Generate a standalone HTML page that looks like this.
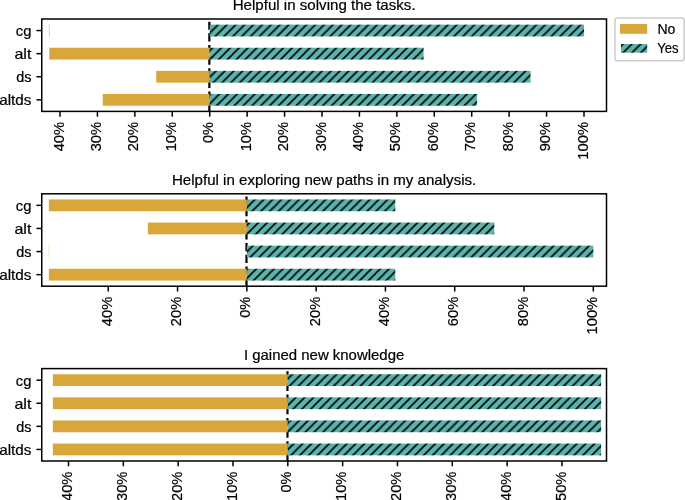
<!DOCTYPE html><html><head><meta charset="utf-8"><style>html,body{margin:0;padding:0;background:#fff;}svg{display:block;will-change:transform;}text{font-family:"Liberation Sans",sans-serif;font-size:13.9px;fill:#000;stroke:#000;stroke-width:0.2px;}</style></head><body>
<svg width="685" height="500" viewBox="0 0 685 500">
<defs>
<pattern id="h0" patternUnits="userSpaceOnUse" x="3.95" y="0" width="8.845" height="8.845">
<rect width="8.845" height="8.845" fill="#5AB4AC"/>
<path d="M0 8.845 L8.845 0 M-2 2 L2 -2 M6.845 10.845 L10.845 6.845" stroke="#000" stroke-width="1.6" fill="none"/>
</pattern>
<pattern id="h1" patternUnits="userSpaceOnUse" x="3.4" y="0" width="8.845" height="8.845">
<rect width="8.845" height="8.845" fill="#5AB4AC"/>
<path d="M0 8.845 L8.845 0 M-2 2 L2 -2 M6.845 10.845 L10.845 6.845" stroke="#000" stroke-width="1.6" fill="none"/>
</pattern>
<pattern id="h2" patternUnits="userSpaceOnUse" x="3.35" y="0" width="8.845" height="8.845">
<rect width="8.845" height="8.845" fill="#5AB4AC"/>
<path d="M0 8.845 L8.845 0 M-2 2 L2 -2 M6.845 10.845 L10.845 6.845" stroke="#000" stroke-width="1.6" fill="none"/>
</pattern>
<pattern id="hl" patternUnits="userSpaceOnUse" x="3.7" y="0" width="8.845" height="8.845">
<rect width="8.845" height="8.845" fill="#5AB4AC"/>
<path d="M0 8.845 L8.845 0 M-2 2 L2 -2 M6.845 10.845 L10.845 6.845" stroke="#000" stroke-width="1.6" fill="none"/>
</pattern>
</defs>
<rect width="685" height="500" fill="#fff"/>
<text x="324.125" y="9.9" text-anchor="middle" textLength="182.957" lengthAdjust="spacingAndGlyphs">Helpful in solving the tasks.</text>
<line x1="209.36" y1="111.4" x2="209.36" y2="19" stroke="#000" stroke-width="2.2" stroke-dasharray="8.14 3.52"/>
<rect x="48.85" y="24.35" width="1.2" height="12.4" fill="#c9b98e" opacity="0.55"/>
<rect x="209.71" y="24.65" width="374.29" height="11.8" fill="url(#h0)"/>
<rect x="49.3" y="47.75" width="160.41" height="11.8" fill="#D8A63A"/>
<rect x="209.71" y="47.75" width="213.88" height="11.8" fill="url(#h0)"/>
<rect x="156.24" y="70.85" width="53.47" height="11.8" fill="#D8A63A"/>
<rect x="209.71" y="70.85" width="320.82" height="11.8" fill="url(#h0)"/>
<rect x="102.77" y="93.95" width="106.94" height="11.8" fill="#D8A63A"/>
<rect x="209.71" y="93.95" width="267.35" height="11.8" fill="url(#h0)"/>
<rect x="41.75" y="19" width="564.75" height="92.4" fill="none" stroke="#000" stroke-width="1.5"/>
<line x1="36.45" y1="30.55" x2="41.75" y2="30.55" stroke="#000" stroke-width="1.5"/>
<text x="31.4" y="35.9" text-anchor="end" textLength="15.636" lengthAdjust="spacingAndGlyphs">cg</text>
<line x1="36.45" y1="53.65" x2="41.75" y2="53.65" stroke="#000" stroke-width="1.5"/>
<text x="31.4" y="59" text-anchor="end" textLength="16.932" lengthAdjust="spacingAndGlyphs">alt</text>
<line x1="36.45" y1="76.75" x2="41.75" y2="76.75" stroke="#000" stroke-width="1.5"/>
<text x="31.4" y="82.1" text-anchor="end" textLength="15.256" lengthAdjust="spacingAndGlyphs">ds</text>
<line x1="36.45" y1="99.85" x2="41.75" y2="99.85" stroke="#000" stroke-width="1.5"/>
<text x="31.4" y="105.2" text-anchor="end" textLength="32.188" lengthAdjust="spacingAndGlyphs">altds</text>
<line x1="59.994" y1="111.4" x2="59.994" y2="116.7" stroke="#000" stroke-width="1.5"/>
<text transform="translate(63.634 122) rotate(-90)" text-anchor="end" textLength="29.339" lengthAdjust="spacingAndGlyphs">40%</text>
<line x1="97.423" y1="111.4" x2="97.423" y2="116.7" stroke="#000" stroke-width="1.5"/>
<text transform="translate(101.063 122) rotate(-90)" text-anchor="end" textLength="29.339" lengthAdjust="spacingAndGlyphs">30%</text>
<line x1="134.852" y1="111.4" x2="134.852" y2="116.7" stroke="#000" stroke-width="1.5"/>
<text transform="translate(138.492 122) rotate(-90)" text-anchor="end" textLength="29.339" lengthAdjust="spacingAndGlyphs">20%</text>
<line x1="172.281" y1="111.4" x2="172.281" y2="116.7" stroke="#000" stroke-width="1.5"/>
<text transform="translate(175.921 122) rotate(-90)" text-anchor="end" textLength="29.339" lengthAdjust="spacingAndGlyphs">10%</text>
<line x1="209.71" y1="111.4" x2="209.71" y2="116.7" stroke="#000" stroke-width="1.5"/>
<text transform="translate(213.35 122) rotate(-90)" text-anchor="end" textLength="20.941" lengthAdjust="spacingAndGlyphs">0%</text>
<line x1="247.139" y1="111.4" x2="247.139" y2="116.7" stroke="#000" stroke-width="1.5"/>
<text transform="translate(250.779 122) rotate(-90)" text-anchor="end" textLength="29.339" lengthAdjust="spacingAndGlyphs">10%</text>
<line x1="284.568" y1="111.4" x2="284.568" y2="116.7" stroke="#000" stroke-width="1.5"/>
<text transform="translate(288.208 122) rotate(-90)" text-anchor="end" textLength="29.339" lengthAdjust="spacingAndGlyphs">20%</text>
<line x1="321.997" y1="111.4" x2="321.997" y2="116.7" stroke="#000" stroke-width="1.5"/>
<text transform="translate(325.637 122) rotate(-90)" text-anchor="end" textLength="29.339" lengthAdjust="spacingAndGlyphs">30%</text>
<line x1="359.426" y1="111.4" x2="359.426" y2="116.7" stroke="#000" stroke-width="1.5"/>
<text transform="translate(363.066 122) rotate(-90)" text-anchor="end" textLength="29.339" lengthAdjust="spacingAndGlyphs">40%</text>
<line x1="396.855" y1="111.4" x2="396.855" y2="116.7" stroke="#000" stroke-width="1.5"/>
<text transform="translate(400.495 122) rotate(-90)" text-anchor="end" textLength="29.339" lengthAdjust="spacingAndGlyphs">50%</text>
<line x1="434.284" y1="111.4" x2="434.284" y2="116.7" stroke="#000" stroke-width="1.5"/>
<text transform="translate(437.924 122) rotate(-90)" text-anchor="end" textLength="29.339" lengthAdjust="spacingAndGlyphs">60%</text>
<line x1="471.713" y1="111.4" x2="471.713" y2="116.7" stroke="#000" stroke-width="1.5"/>
<text transform="translate(475.353 122) rotate(-90)" text-anchor="end" textLength="29.339" lengthAdjust="spacingAndGlyphs">70%</text>
<line x1="509.142" y1="111.4" x2="509.142" y2="116.7" stroke="#000" stroke-width="1.5"/>
<text transform="translate(512.782 122) rotate(-90)" text-anchor="end" textLength="29.339" lengthAdjust="spacingAndGlyphs">80%</text>
<line x1="546.571" y1="111.4" x2="546.571" y2="116.7" stroke="#000" stroke-width="1.5"/>
<text transform="translate(550.211 122) rotate(-90)" text-anchor="end" textLength="29.339" lengthAdjust="spacingAndGlyphs">90%</text>
<line x1="584" y1="111.4" x2="584" y2="116.7" stroke="#000" stroke-width="1.5"/>
<text transform="translate(587.64 122) rotate(-90)" text-anchor="end" textLength="37.738" lengthAdjust="spacingAndGlyphs">100%</text>
<text x="324.125" y="184.7" text-anchor="middle" textLength="304.355" lengthAdjust="spacingAndGlyphs">Helpful in exploring new paths in my analysis.</text>
<line x1="246.49" y1="286.2" x2="246.49" y2="193.8" stroke="#000" stroke-width="2.2" stroke-dasharray="8.14 3.52"/>
<rect x="48.863" y="199.45" width="197.977" height="11.8" fill="#D8A63A"/>
<rect x="246.84" y="199.45" width="148.483" height="11.8" fill="url(#h1)"/>
<rect x="147.851" y="222.55" width="98.989" height="11.8" fill="#D8A63A"/>
<rect x="246.84" y="222.55" width="247.471" height="11.8" fill="url(#h1)"/>
<rect x="48.213" y="245.35" width="1.2" height="12.4" fill="#e3d08a" opacity="0.35"/>
<rect x="246.84" y="245.65" width="346.46" height="11.8" fill="url(#h1)"/>
<rect x="48.863" y="268.75" width="197.977" height="11.8" fill="#D8A63A"/>
<rect x="246.84" y="268.75" width="148.483" height="11.8" fill="url(#h1)"/>
<rect x="41.75" y="193.8" width="564.75" height="92.4" fill="none" stroke="#000" stroke-width="1.5"/>
<line x1="36.45" y1="205.35" x2="41.75" y2="205.35" stroke="#000" stroke-width="1.5"/>
<text x="31.4" y="210.7" text-anchor="end" textLength="15.636" lengthAdjust="spacingAndGlyphs">cg</text>
<line x1="36.45" y1="228.45" x2="41.75" y2="228.45" stroke="#000" stroke-width="1.5"/>
<text x="31.4" y="233.8" text-anchor="end" textLength="16.932" lengthAdjust="spacingAndGlyphs">alt</text>
<line x1="36.45" y1="251.55" x2="41.75" y2="251.55" stroke="#000" stroke-width="1.5"/>
<text x="31.4" y="256.9" text-anchor="end" textLength="15.256" lengthAdjust="spacingAndGlyphs">ds</text>
<line x1="36.45" y1="274.65" x2="41.75" y2="274.65" stroke="#000" stroke-width="1.5"/>
<text x="31.4" y="280" text-anchor="end" textLength="32.188" lengthAdjust="spacingAndGlyphs">altds</text>
<line x1="108.256" y1="286.2" x2="108.256" y2="291.5" stroke="#000" stroke-width="1.5"/>
<text transform="translate(111.896 296.8) rotate(-90)" text-anchor="end" textLength="29.339" lengthAdjust="spacingAndGlyphs">40%</text>
<line x1="177.548" y1="286.2" x2="177.548" y2="291.5" stroke="#000" stroke-width="1.5"/>
<text transform="translate(181.188 296.8) rotate(-90)" text-anchor="end" textLength="29.339" lengthAdjust="spacingAndGlyphs">20%</text>
<line x1="246.84" y1="286.2" x2="246.84" y2="291.5" stroke="#000" stroke-width="1.5"/>
<text transform="translate(250.48 296.8) rotate(-90)" text-anchor="end" textLength="20.941" lengthAdjust="spacingAndGlyphs">0%</text>
<line x1="316.132" y1="286.2" x2="316.132" y2="291.5" stroke="#000" stroke-width="1.5"/>
<text transform="translate(319.772 296.8) rotate(-90)" text-anchor="end" textLength="29.339" lengthAdjust="spacingAndGlyphs">20%</text>
<line x1="385.424" y1="286.2" x2="385.424" y2="291.5" stroke="#000" stroke-width="1.5"/>
<text transform="translate(389.064 296.8) rotate(-90)" text-anchor="end" textLength="29.339" lengthAdjust="spacingAndGlyphs">40%</text>
<line x1="454.716" y1="286.2" x2="454.716" y2="291.5" stroke="#000" stroke-width="1.5"/>
<text transform="translate(458.356 296.8) rotate(-90)" text-anchor="end" textLength="29.339" lengthAdjust="spacingAndGlyphs">60%</text>
<line x1="524.008" y1="286.2" x2="524.008" y2="291.5" stroke="#000" stroke-width="1.5"/>
<text transform="translate(527.648 296.8) rotate(-90)" text-anchor="end" textLength="29.339" lengthAdjust="spacingAndGlyphs">80%</text>
<line x1="593.3" y1="286.2" x2="593.3" y2="291.5" stroke="#000" stroke-width="1.5"/>
<text transform="translate(596.94 296.8) rotate(-90)" text-anchor="end" textLength="37.738" lengthAdjust="spacingAndGlyphs">100%</text>
<text x="324.125" y="359.5" text-anchor="middle" textLength="160.315" lengthAdjust="spacingAndGlyphs">I gained new knowledge</text>
<line x1="287.46" y1="461" x2="287.46" y2="368.6" stroke="#000" stroke-width="2.2" stroke-dasharray="8.14 3.52"/>
<rect x="52.833" y="374.25" width="234.977" height="11.8" fill="#D8A63A"/>
<rect x="287.81" y="374.25" width="313.303" height="11.8" fill="url(#h2)"/>
<rect x="52.833" y="397.35" width="234.977" height="11.8" fill="#D8A63A"/>
<rect x="287.81" y="397.35" width="313.303" height="11.8" fill="url(#h2)"/>
<rect x="52.833" y="420.45" width="234.977" height="11.8" fill="#D8A63A"/>
<rect x="287.81" y="420.45" width="313.303" height="11.8" fill="url(#h2)"/>
<rect x="52.833" y="443.55" width="234.977" height="11.8" fill="#D8A63A"/>
<rect x="287.81" y="443.55" width="313.303" height="11.8" fill="url(#h2)"/>
<rect x="41.75" y="368.6" width="564.75" height="92.4" fill="none" stroke="#000" stroke-width="1.5"/>
<line x1="36.45" y1="380.15" x2="41.75" y2="380.15" stroke="#000" stroke-width="1.5"/>
<text x="31.4" y="385.5" text-anchor="end" textLength="15.636" lengthAdjust="spacingAndGlyphs">cg</text>
<line x1="36.45" y1="403.25" x2="41.75" y2="403.25" stroke="#000" stroke-width="1.5"/>
<text x="31.4" y="408.6" text-anchor="end" textLength="16.932" lengthAdjust="spacingAndGlyphs">alt</text>
<line x1="36.45" y1="426.35" x2="41.75" y2="426.35" stroke="#000" stroke-width="1.5"/>
<text x="31.4" y="431.7" text-anchor="end" textLength="15.256" lengthAdjust="spacingAndGlyphs">ds</text>
<line x1="36.45" y1="449.45" x2="41.75" y2="449.45" stroke="#000" stroke-width="1.5"/>
<text x="31.4" y="454.8" text-anchor="end" textLength="32.188" lengthAdjust="spacingAndGlyphs">altds</text>
<line x1="68.498" y1="461" x2="68.498" y2="466.3" stroke="#000" stroke-width="1.5"/>
<text transform="translate(72.138 471.6) rotate(-90)" text-anchor="end" textLength="29.339" lengthAdjust="spacingAndGlyphs">40%</text>
<line x1="123.326" y1="461" x2="123.326" y2="466.3" stroke="#000" stroke-width="1.5"/>
<text transform="translate(126.966 471.6) rotate(-90)" text-anchor="end" textLength="29.339" lengthAdjust="spacingAndGlyphs">30%</text>
<line x1="178.154" y1="461" x2="178.154" y2="466.3" stroke="#000" stroke-width="1.5"/>
<text transform="translate(181.794 471.6) rotate(-90)" text-anchor="end" textLength="29.339" lengthAdjust="spacingAndGlyphs">20%</text>
<line x1="232.982" y1="461" x2="232.982" y2="466.3" stroke="#000" stroke-width="1.5"/>
<text transform="translate(236.622 471.6) rotate(-90)" text-anchor="end" textLength="29.339" lengthAdjust="spacingAndGlyphs">10%</text>
<line x1="287.81" y1="461" x2="287.81" y2="466.3" stroke="#000" stroke-width="1.5"/>
<text transform="translate(291.45 471.6) rotate(-90)" text-anchor="end" textLength="20.941" lengthAdjust="spacingAndGlyphs">0%</text>
<line x1="342.638" y1="461" x2="342.638" y2="466.3" stroke="#000" stroke-width="1.5"/>
<text transform="translate(346.278 471.6) rotate(-90)" text-anchor="end" textLength="29.339" lengthAdjust="spacingAndGlyphs">10%</text>
<line x1="397.466" y1="461" x2="397.466" y2="466.3" stroke="#000" stroke-width="1.5"/>
<text transform="translate(401.106 471.6) rotate(-90)" text-anchor="end" textLength="29.339" lengthAdjust="spacingAndGlyphs">20%</text>
<line x1="452.294" y1="461" x2="452.294" y2="466.3" stroke="#000" stroke-width="1.5"/>
<text transform="translate(455.934 471.6) rotate(-90)" text-anchor="end" textLength="29.339" lengthAdjust="spacingAndGlyphs">30%</text>
<line x1="507.122" y1="461" x2="507.122" y2="466.3" stroke="#000" stroke-width="1.5"/>
<text transform="translate(510.762 471.6) rotate(-90)" text-anchor="end" textLength="29.339" lengthAdjust="spacingAndGlyphs">40%</text>
<line x1="561.95" y1="461" x2="561.95" y2="466.3" stroke="#000" stroke-width="1.5"/>
<text transform="translate(565.59 471.6) rotate(-90)" text-anchor="end" textLength="29.339" lengthAdjust="spacingAndGlyphs">50%</text>
<rect x="615" y="18.1" width="69.2" height="42.7" rx="2.64" fill="#fff" stroke="#ccc" stroke-width="1.47"/>
<rect x="620" y="24" width="27.2" height="9.8" fill="#D8A63A"/>
<rect x="621" y="44" width="26.2" height="8.7" fill="url(#hl)"/>
<text x="657.4" y="33.6" textLength="17.95" lengthAdjust="spacingAndGlyphs">No</text>
<text x="657.3" y="52.8" textLength="21.308" lengthAdjust="spacingAndGlyphs">Yes</text>
</svg></body></html>
